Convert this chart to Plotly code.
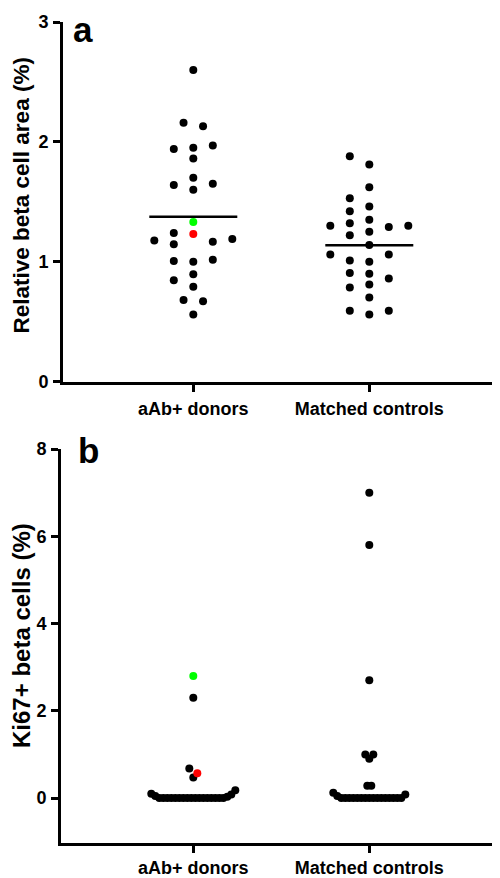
import numpy as np
import plotly.graph_objects as go

# ---------------- data ----------------
categories = ["aAb+ donors", "Matched controls"]

# Panel a: relative beta cell area (%)
area_aab = [2.60, 2.16, 2.13, 1.97, 1.95, 1.94, 1.86, 1.70, 1.65, 1.64, 1.60,
            1.24, 1.19, 1.176, 1.167, 1.145, 1.017, 1.006, 1.00, 0.894, 0.844,
            0.79, 0.68, 0.67, 0.56]
area_ctrl = [1.88, 1.81, 1.62, 1.53, 1.46, 1.42, 1.35, 1.32, 1.30, 1.30, 1.29,
             1.25, 1.22, 1.14, 1.06, 1.06, 1.01, 1.00, 0.905, 0.90, 0.86, 0.81,
             0.785, 0.70, 0.59, 0.59, 0.56]

# Panel b: Ki67+ beta cells (%)
ki67_aab = [2.30, 0.68, 0.47, 0.18, 0.10, 0.08, 0.05, 0.03,
            0.0, 0.0, 0.0, 0.0, 0.0, 0.0, 0.0, 0.0, 0.0, 0.0, 0.0, 0.0, 0.0,
            0.0, 0.0, 0.0, 0.0]
ki67_ctrl = [7.00, 5.80, 2.70, 1.00, 1.00, 0.90, 0.28, 0.28, 0.12, 0.08, 0.05,
             0.0, 0.0, 0.0, 0.0, 0.0, 0.0, 0.0, 0.0, 0.0, 0.0, 0.0, 0.0, 0.0,
             0.0, 0.0, 0.0]

# Two highlighted aAb+ donors (green and red)
green_donor = {"area": 1.33, "ki67": 2.80}
red_donor = {"area": 1.23, "ki67": 0.57}

y_titles = ["Relative beta cell area (%)", "Ki67+ beta cells (%)"]
panel_labels = ["a", "b"]

BLACK, GREEN, RED = "#000000", "#00ff00", "#ff0000"

# ---------------- layout constants (window pixels) ----------------
OFF = 8                             # default page body margin
WIN_W, WIN_H = 500, 878
W, H = WIN_W - OFF, WIN_H - OFF     # figure size that fits the window
X_PX = 176.0                        # px per category unit
CAT0_PX = 193.3                     # window x of first category
A_LEFT, A_TOP, A_BOT = 63.0, 22.0, 381.5
B_LEFT, B_TOP, B_BOT = 61.0, 449.0, 843.0
A_RANGE = [0, 3]
B_RANGE = [-1.03, 8]
A_YPX = (A_BOT - A_TOP) / (A_RANGE[1] - A_RANGE[0])
B_YPX = (B_BOT - B_TOP) / (B_RANGE[1] - B_RANGE[0])
FONT = "Liberation Sans, Arial, Helvetica, sans-serif"


def px_x(p):
    return (p - OFF) / W


def px_y(p):
    return 1 - (p - OFF) / H


def swarm(values, ypx, step_px, n_first=0, coll_px=10.5, chain_px=5.0, first=-1):
    """Greedy beeswarm: returns x offsets (category units).
    The last n_first values (highlighted donors) are placed first."""
    v = np.asarray(values, float)
    n = len(v)
    head = list(range(n - n_first, n))
    rest = [i for i in np.argsort(v, kind="stable") if i not in head]
    order = head + rest
    cols = np.zeros(n)
    cands = [0]
    for k in range(1, n + 1):
        cands += [first * k, -first * k]
    placed = []
    for i in order:
        for c in cands:
            if all(not (cols[j] == c and abs(v[j] - v[i]) * ypx < coll_px) for j in placed):
                cols[i] = c
                break
        placed.append(i)
    # centre tight rows
    srt = np.argsort(v, kind="stable")
    groups, cur = [], [srt[0]]
    for a, b in zip(srt[:-1], srt[1:]):
        if (v[b] - v[a]) * ypx < chain_px:
            cur.append(b)
        else:
            groups.append(cur)
            cur = [b]
    groups.append(cur)
    for g in groups:
        shift = -(cols[g].min() + cols[g].max()) / 2.0
        if shift == 0:
            continue
        gs = set(g)
        ok = True
        for i in g:
            for j in range(n):
                if j in gs:
                    continue
                if abs(cols[i] + shift - cols[j]) < 1 and abs(v[i] - v[j]) * ypx < coll_px:
                    ok = False
        if ok:
            cols[g] = cols[g] + shift
    return cols * step_px / X_PX


fig = go.Figure()


def add_group(xc, vals, colors, xref, yref, ypx, step_px, first, mean_line, n_first=0):
    offs = swarm(vals, ypx, step_px, n_first=n_first, first=first)
    fig.add_trace(go.Scatter(
        x=xc + offs, y=vals, mode="markers", xaxis=xref, yaxis=yref,
        marker=dict(size=8, color=colors, line=dict(width=0)),
        hoverinfo="y", showlegend=False, cliponaxis=False))
    if mean_line:
        m = float(np.mean(vals))
        fig.add_trace(go.Scatter(
            x=[xc - 0.25, xc + 0.25], y=[m, m], mode="lines", xaxis=xref, yaxis=yref,
            line=dict(color=BLACK, width=2.5), hoverinfo="skip", showlegend=False))


# panel a
vals_a0 = area_aab + [green_donor["area"], red_donor["area"]]
cols_a0 = [BLACK] * len(area_aab) + [GREEN, RED]
add_group(0, vals_a0, cols_a0, "x", "y", A_YPX, 19.5, -1, True, n_first=2)
add_group(1, area_ctrl, [BLACK] * len(area_ctrl), "x", "y", A_YPX, 19.5, -1, True)

# panel b
vals_b0 = ki67_aab + [green_donor["ki67"], red_donor["ki67"]]
cols_b0 = [BLACK] * len(ki67_aab) + [GREEN, RED]
add_group(0, vals_b0, cols_b0, "x2", "y2", B_YPX, 4.0, 1, False, n_first=0)
add_group(1, ki67_ctrl, [BLACK] * len(ki67_ctrl), "x2", "y2", B_YPX, 4.0, 1, False)

axis_common = dict(showline=True, linewidth=3, linecolor=BLACK, ticks="outside",
                   ticklen=7, tickwidth=3, tickcolor=BLACK, showgrid=False,
                   zeroline=False, fixedrange=True, automargin=False,
                   tickfont=dict(family=FONT, size=18, color=BLACK, weight="bold"))


def xr(left_px):
    return [-(CAT0_PX - left_px) / X_PX, (WIN_W - CAT0_PX) / X_PX]


label_font = dict(family=FONT, size=35, color=BLACK, weight="bold")

fig.update_layout(
    template="none",
    width=W, height=H, margin=dict(l=0, r=0, t=0, b=0, pad=0, autoexpand=False),
    plot_bgcolor="white", paper_bgcolor="white", showlegend=False,
    xaxis=dict(domain=[px_x(A_LEFT), 1], range=xr(A_LEFT), tickvals=[0, 1],
               ticktext=categories, anchor="y", ticklabelstandoff=2, **axis_common),
    yaxis=dict(domain=[px_y(A_BOT), px_y(A_TOP)], range=A_RANGE, tickvals=[0, 1, 2, 3],
               anchor="x", ticklabelstandoff=1, **axis_common),
    xaxis2=dict(domain=[px_x(B_LEFT), 1], range=xr(B_LEFT), tickvals=[0, 1],
                ticktext=categories, anchor="y2", ticklabelstandoff=-1, **axis_common),
    yaxis2=dict(domain=[px_y(B_BOT), px_y(B_TOP)], range=B_RANGE,
                tickvals=[0, 2, 4, 6, 8], anchor="x2", ticklabelstandoff=1, **axis_common),
    annotations=[
        dict(text=y_titles[0], x=px_x(21), y=px_y(195.5), xref="paper", yref="paper",
             textangle=-90, xanchor="center", yanchor="middle", showarrow=False,
             font=dict(family=FONT, size=22.5, color=BLACK, weight="bold")),
        dict(text=y_titles[1], x=px_x(21), y=px_y(636), xref="paper", yref="paper",
             textangle=-90, xanchor="center", yanchor="middle", showarrow=False,
             font=dict(family=FONT, size=24, color=BLACK, weight="bold")),
        dict(text=panel_labels[0], x=px_x(71), y=px_y(29), xref="paper", yref="paper",
             xanchor="left", yanchor="middle", showarrow=False, font=label_font),
        dict(text=panel_labels[1], x=px_x(76), y=px_y(450), xref="paper", yref="paper",
             xanchor="left", yanchor="middle", showarrow=False, font=label_font),
    ],
)

fig.write_html("out.html")
